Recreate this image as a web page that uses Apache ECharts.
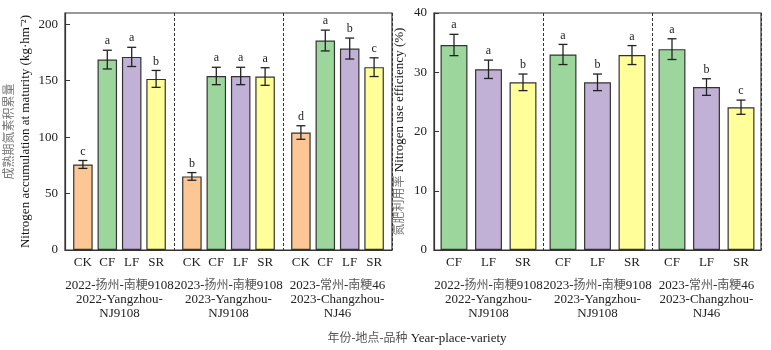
<!DOCTYPE html>
<html>
<head>
<meta charset="utf-8">
<script src="https://cdn.jsdelivr.net/npm/echarts@6/dist/echarts.min.js"></script>
<style>
  html, body { margin: 0; padding: 0; background: #fff; }
  #main { width: 771px; height: 350px; }
</style>
</head>
<body>
<div id="main"></div>
<script>
// groups (year-place-variety); {cn|..} marks the Chinese parts (drawn lighter)
var groupNames = ['2022-{cn|扬州}-{cn|南粳}9108\n2022-Yangzhou-\nNJ9108', '2023-{cn|扬州}-{cn|南粳}9108\n2023-Yangzhou-\nNJ9108', '2023-{cn|常州}-{cn|南粳}46\n2023-Changzhou-\nNJ46'];

// left: N accumulation at maturity (kg/hm2)
var naTreat = ['CK', 'CF', 'LF', 'SR'];
var naMean = [[75.8, 168.7, 171.1, 151.6], [65.2, 154.2, 154.2, 153.7], [104.1, 185.6, 178.5, 162.0]];
var naSd = [[3.5, 8.3, 8.5, 7.5], [3.4, 7.7, 7.7, 7.8], [6.0, 9.2, 9.3, 8.3]];
var naSig = [['c', 'a', 'a', 'b'], ['b', 'a', 'a', 'a'], ['d', 'a', 'b', 'c']];

// right: N use efficiency (%)
var nueTreat = ['CF', 'LF', 'SR'];
var nueMean = [[34.6, 30.5, 28.3], [33.0, 28.3, 32.9], [33.9, 27.5, 24.1]];
var nueSd = [[1.8, 1.55, 1.4], [1.7, 1.4, 1.6], [1.75, 1.4, 1.2]];
var nueSig = [['a', 'a', 'b'], ['a', 'b', 'a'], ['a', 'b', 'c']];

var treatColors = { CK: '#FCC795', CF: '#9DD69C', LF: '#C1B1D7', SR: '#FFFE99' };

var FONT = '"Liberation Serif", "Noto Sans CJK SC", serif';
var INK = '#333';

var grid = [], xAxis = [], yAxis = [], series = [];

// frame of one panel: box, y axis with ticks, dashed separators between groups
function addFrame(left, yMax, yStep, yName, nameGap) {
    var gi = grid.length;
    grid.push({ left: left, top: 13, width: 327, height: 237, show: true, borderColor: INK, borderWidth: 1.2 });
    xAxis.push({
        type: 'value', gridIndex: gi, min: 0, max: 3, interval: 1,
        axisLine: { show: true, lineStyle: { color: INK, width: 1.2 } },
        axisTick: { show: false }, axisLabel: { show: false },
        splitLine: { show: true, lineStyle: { color: INK, type: [3, 2], width: 1 } }
    });
    yAxis.push({
        type: 'value', gridIndex: gi, min: 0, max: yMax, interval: yStep,
        name: yName, nameLocation: 'middle', nameGap: nameGap,
        nameTextStyle: { fontFamily: FONT, fontSize: 13, color: '#111', lineHeight: 16,
            rich: { cn: { fontFamily: FONT, fontSize: 12, color: '#777', lineHeight: 16 } } },
        axisLine: { show: true, lineStyle: { color: INK, width: 1.2 } },
        axisTick: { show: true, inside: true, length: 5, lineStyle: { color: INK } },
        axisLabel: { fontFamily: FONT, fontSize: 13, color: '#222', margin: 7 },
        splitLine: { show: false }
    });
}

// one group of bars + error bars + significance letters
function addGroup(left, width, yMax, cats, means, sds, sigs, groupName, barWidth) {
    var gi = grid.length;
    grid.push({ left: left, top: 13, width: width, height: 237 });
    xAxis.push({
        type: 'category', gridIndex: gi, data: cats,
        name: groupName, nameLocation: 'middle', nameGap: 29,
        nameTextStyle: { fontFamily: FONT, fontSize: 13, color: '#222', lineHeight: 14,
            rich: { cn: { fontFamily: FONT, fontSize: 12, color: '#555', lineHeight: 14 } } },
        axisLine: { show: false }, axisTick: { show: false },
        axisLabel: { fontFamily: FONT, fontSize: 13, color: '#222', margin: 6 }
    });
    yAxis.push({ type: 'value', gridIndex: gi, min: 0, max: yMax, show: false });
    series.push({
        type: 'bar', xAxisIndex: gi, yAxisIndex: gi, barWidth: barWidth,
        data: means.map(function (v, i) {
            return { value: v, itemStyle: { color: treatColors[cats[i]] } };
        }),
        itemStyle: { borderColor: INK, borderWidth: 1.2 },
        silent: true
    });
    series.push({
        type: 'custom', xAxisIndex: gi, yAxisIndex: gi, z: 5,
        data: means.map(function (v, i) { return [i, v, sds[i]]; }),
        renderItem: function (params, api) {
            var x = api.value(0), m = api.value(1), s = api.value(2);
            var top = api.coord([x, m + s]), bot = api.coord([x, m - s]);
            var cx = top[0], hw = 4.5;
            var st = { stroke: '#222', lineWidth: 1.3 };
            return {
                type: 'group', children: [
                    { type: 'line', shape: { x1: cx, y1: top[1], x2: cx, y2: bot[1] }, style: st },
                    { type: 'line', shape: { x1: cx - hw, y1: top[1], x2: cx + hw, y2: top[1] }, style: st },
                    { type: 'line', shape: { x1: cx - hw, y1: bot[1], x2: cx + hw, y2: bot[1] }, style: st },
                    { type: 'text', style: { text: sigs[params.dataIndex], x: cx, y: top[1] - 3,
                        align: 'center', verticalAlign: 'bottom', fill: '#222',
                        font: '12px ' + FONT } }
                ]
            };
        }
    });
}

addFrame(65, 210, 50, '{cn|成熟期氮素积累量}\nNitrogen accumulation at maturity (kg·hm⁻²)', 31);
addFrame(434, 40, 10, '{cn|氮肥利用率} Nitrogen use efficiency (%)', 26);

for (var g = 0; g < 3; g++) {
    addGroup(65 + 109 * g + 5.7, 97.6, 210, naTreat, naMean[g], naSd[g], naSig[g], groupNames[g], '80%');
}
for (var g = 0; g < 3; g++) {
    addGroup(434 + 109 * g + 2.75, 103.5, 40, nueTreat, nueMean[g], nueSd[g], nueSig[g], groupNames[g], '78%');
}

var myChart = echarts.init(document.getElementById('main'));
var option = {
    backgroundColor: '#ffffff',
    animation: false,
    title: {
        text: '{cn|年份-地点-品种} Year-place-variety',
        left: 412, top: 327, textAlign: 'center',
        textStyle: { fontFamily: FONT, fontSize: 13, fontWeight: 'normal', color: '#222',
            rich: { cn: { fontFamily: FONT, fontSize: 12, color: '#555' } } }
    },
    grid: grid,
    xAxis: xAxis,
    yAxis: yAxis,
    series: series
};
myChart.setOption(option);
</script>
</body>
</html>
